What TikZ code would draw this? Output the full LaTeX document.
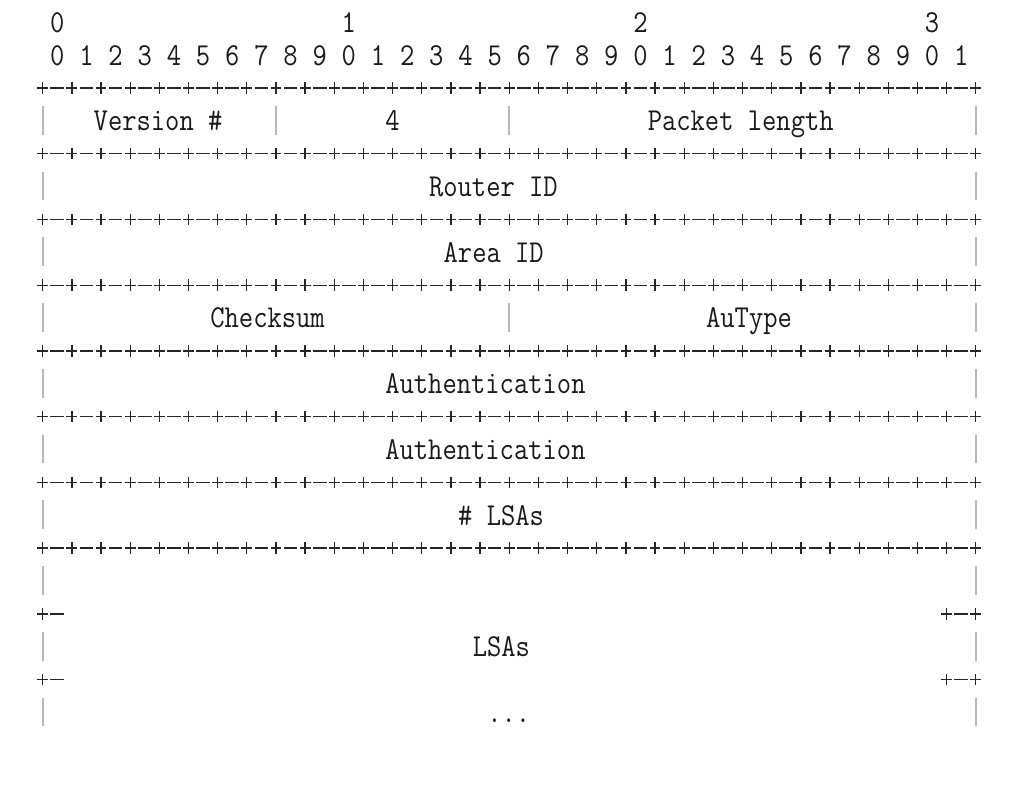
\documentclass[tikz,border=0pt]{standalone}
\usepackage{fontspec}
\setmonofont{Latin Modern Mono}
\begin{document}
\begin{tikzpicture}[x=1pt,y=-1pt]
\def\cw{14.58}
\def\xo{42.7}
\def\rh{32.87}
\def\yo{22.2}
\tikzset{
  lbl/.style={anchor=base west, inner sep=0pt, outer sep=0pt,
    font=\ttfamily\fontsize{27.77}{30}\selectfont, text=black!90},
  dig/.style={lbl, anchor=base},
  gridln/.style={draw=black!85, line width=1.3pt},
  barln/.style={draw=black!28, line width=1.8pt},
}
\useasboundingbox[fill=white] (0,0) rectangle (1033,799);
% ---- bit numbers
\foreach \c/\t in {1/0,21/1,41/2,61/3}{
  \node[dig] (t\t) at ({\xo+\c*\cw},{\yo+10.1}) {\scalebox{1}[1.15]{\t}};
}
\foreach \c [count=\i] in {1,3,...,63}{
  \pgfmathtruncatemacro\dg{mod(\i-1,10)}
  \node[dig] (d\i) at ({\xo+\c*\cw},{\yo+\rh+10.1}) {\scalebox{1}[1.15]{\dg}};
}
% ---- full separator lines
\foreach \r in {2,4,...,16}{
  \foreach \c in {0,2,...,64}{
    \draw[gridln] ({\xo+\c*\cw-5.4},{\yo+\r*\rh}) -- ({\xo+\c*\cw+5.4},{\yo+\r*\rh})
                  ({\xo+\c*\cw},{\yo+\r*\rh-5.8}) -- ({\xo+\c*\cw},{\yo+\r*\rh+5.8});
  }
  \foreach \c in {1,3,...,63}{
    \draw[gridln] ({\xo+\c*\cw-6.8},{\yo+\r*\rh}) -- ({\xo+\c*\cw+6.8},{\yo+\r*\rh});
  }
}
% ---- partial separators (rows 18, 20)
\foreach \r in {18,20}{
  \foreach \c in {0,62,64}{
    \draw[gridln] ({\xo+\c*\cw-5.4},{\yo+\r*\rh}) -- ({\xo+\c*\cw+5.4},{\yo+\r*\rh})
                  ({\xo+\c*\cw},{\yo+\r*\rh-5.8}) -- ({\xo+\c*\cw},{\yo+\r*\rh+5.8});
  }
  \foreach \c in {1,63}{
    \draw[gridln] ({\xo+\c*\cw-6.8},{\yo+\r*\rh}) -- ({\xo+\c*\cw+6.8},{\yo+\r*\rh});
  }
}
% ---- vertical bars
\foreach \r/\c in {3/0,3/16,3/32,3/64,5/0,5/64,7/0,7/64,9/0,9/32,9/64,
                   11/0,11/64,13/0,13/64,15/0,15/64,17/0,17/64,19/0,19/64,21/0,21/64}{
  \draw[barln] ({\xo+\c*\cw},{\yo+\r*\rh-14.8}) -- ({\xo+\c*\cw},{\yo+\r*\rh+13.8});
}
% ---- field labels
\newcommand\fld[4]{%
  \node[lbl] (#1) at ({\xo+#3*\cw-\cw/2},{\yo+#2*\rh+9.8}) {\scalebox{1}[1.15]{#4}};}
\fld{ver}{3}{4}{Version \#}
\fld{four}{3}{24}{4}
\fld{plen}{3}{42}{Packet length}
\fld{rid}{5}{27}{Router ID}
\fld{aid}{7}{28}{Area ID}
\fld{cks}{9}{12}{Checksum}
\fld{aut}{9}{46}{AuType}
\fld{authA}{11}{24}{Authentication}
\fld{authB}{13}{24}{Authentication}
\fld{nlsa}{15}{29}{\# LSAs}
\fld{lsas}{19}{30}{LSAs}
\fld{dots}{21}{31}{...}
\end{tikzpicture}
\end{document}
